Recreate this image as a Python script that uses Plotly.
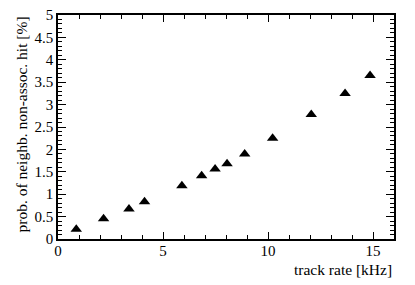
import plotly.graph_objects as go

track_rate_khz = [0.87, 2.17, 3.38, 4.12, 5.9, 6.84, 7.48, 8.05, 8.89, 10.22, 12.06, 13.67, 14.86]
prob_percent = [0.22, 0.45, 0.67, 0.83, 1.19, 1.41, 1.56, 1.68, 1.90, 2.25, 2.78, 3.25, 3.65]

x_title = "track rate [kHz]"
y_title = "prob. of neighb. non-assoc. hit [%]"

FONT = "Liberation Serif"

fig = go.Figure()
fig.add_trace(go.Scatter(
    x=track_rate_khz, y=prob_percent, mode="markers",
    marker=dict(symbol="triangle-up", size=10, color="black"),
    showlegend=False,
))

fig.update_layout(
    width=415, height=285,
    margin=dict(l=58, r=21, t=15, b=46),
    paper_bgcolor="white", plot_bgcolor="white",
    font=dict(family=FONT, size=15, color="black"),
    xaxis=dict(
        range=[0, 16], tickvals=[0, 5, 10, 15], ticktext=["0", "5", "10", "15"],
        ticks="inside", ticklen=7, tickwidth=1, tickcolor="black",
        ticklabelstandoff=-3,
        minor=dict(ticks="inside", ticklen=4, tickwidth=1, tickcolor="black", dtick=1, tick0=0, showgrid=False),
        showline=True, linecolor="black", linewidth=1.5, mirror="allticks",
        showgrid=False, zeroline=False, automargin=False,
    ),
    yaxis=dict(
        range=[0, 5], tickvals=[0, 0.5, 1, 1.5, 2, 2.5, 3, 3.5, 4, 4.5, 5],
        ticktext=["0", "0.5", "1", "1.5", "2", "2.5", "3", "3.5", "4", "4.5", "5"],
        ticks="inside", ticklen=8, tickwidth=1, tickcolor="black",
        minor=dict(ticks="inside", ticklen=4, tickwidth=1, tickcolor="black", dtick=0.1, tick0=0, showgrid=False),
        showline=True, linecolor="black", linewidth=1.5, mirror="allticks",
        showgrid=False, zeroline=False, automargin=False,
    ),
    annotations=[
        dict(text=x_title, xref="paper", yref="paper", x=1, y=0, xanchor="right", yanchor="top",
             yshift=-20, showarrow=False, font=dict(family=FONT, size=15.5)),
        dict(text=y_title, xref="paper", yref="paper", x=0, y=1, xanchor="right", yanchor="top",
             xshift=-27, textangle=-90, showarrow=False, font=dict(family=FONT, size=15.5)),
    ],
)

fig.write_html("out.html", config={"displayModeBar": False},
               post_script="document.body.style.margin='0';document.body.style.padding='0';")
